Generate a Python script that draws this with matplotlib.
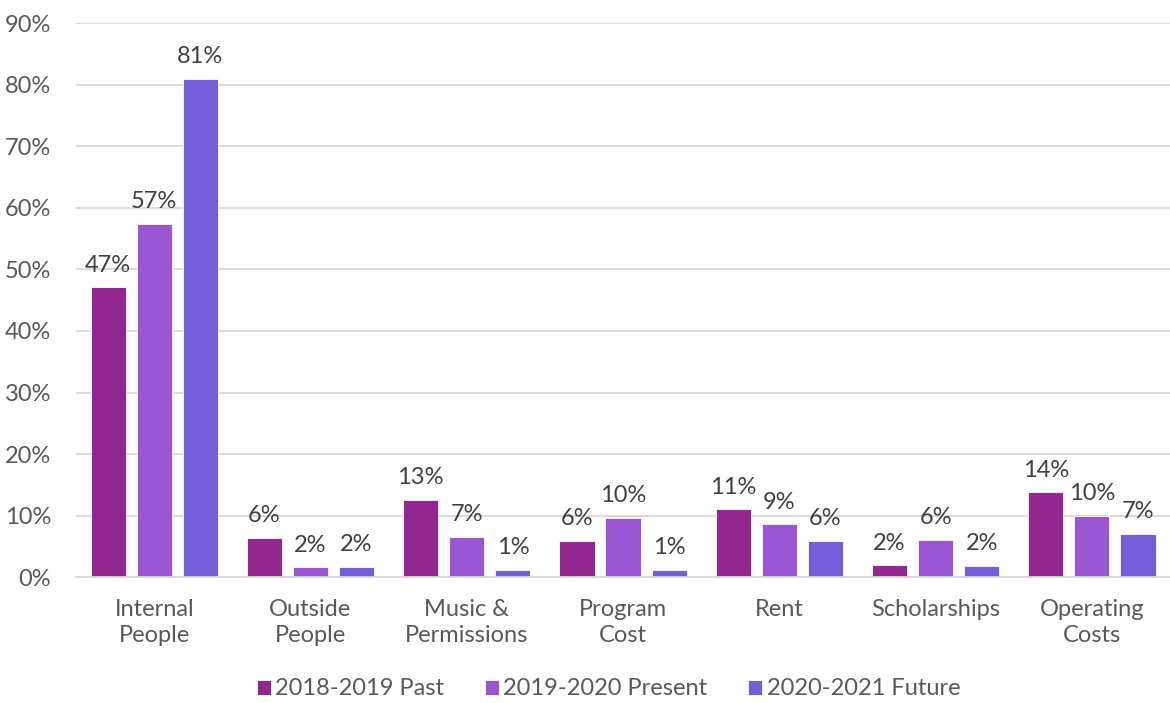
import numpy as np
import matplotlib
matplotlib.use("Agg")
import matplotlib.pyplot as plt

plt.rcParams['font.family'] = ['Lato', 'DejaVu Sans']

categories = ["Internal\nPeople", "Outside\nPeople", "Music &\nPermissions", "Program\nCost",
              "Rent", "Scholarships", "Operating\nCosts"]
series_names = ["2018-2019 Past", "2019-2020 Present", "2020-2021 Future"]
past = [47.1, 6.4, 12.6, 5.9, 11.0, 1.9, 13.8]
present = [57.4, 1.6, 6.6, 9.6, 8.6, 6.1, 10.0]
future = [81.0, 1.7, 1.2, 1.2, 5.9, 1.8, 7.0]
colors = ["#92278F", "#9B57D3", "#755DD9"]

text_color = "#595959"
label_color = "#404040"
grid_color = "#D9D9D9"

fig = plt.figure(figsize=(11.7, 7.03), dpi=100)
ax = fig.add_axes([0.065, 0.179, 0.935, 0.788])

x = np.arange(len(categories))
width = 0.225
step = 0.295
for i, (vals, name, c) in enumerate(zip([past, present, future], series_names, colors)):
    pos = x + (i - 1) * step
    ax.bar(pos, vals, width, color=c, label=name, edgecolor="white", linewidth=0.6, zorder=3)
    for xp, v in zip(pos, vals):
        ax.text(xp, v + 1.9, f"{round(v):.0f}%", ha="center", va="bottom",
                fontsize=17, color=label_color)

ax.set_xlim(-0.5, 6.5)
ax.set_ylim(0, 90)
ax.set_yticks(np.arange(0, 91, 10))
ax.set_yticklabels([f"{t}%" for t in range(0, 91, 10)])
ax.set_xticks(x)
ax.set_xticklabels(categories, linespacing=1.3)
ax.tick_params(axis="both", length=0, labelsize=17, colors=text_color)
ax.tick_params(axis="x", pad=16)
ax.tick_params(axis="y", pad=18)
ax.grid(axis="y", color=grid_color, linewidth=1.3, zorder=0)
for s in ["top", "right", "left"]:
    ax.spines[s].set_visible(False)
ax.spines["bottom"].set_color(grid_color)
ax.spines["bottom"].set_linewidth(1.3)
ax.spines["bottom"].set_zorder(4)

leg = fig.legend(loc="center", bbox_to_anchor=(0.52, 0.02), ncol=3, frameon=False,
                 fontsize=17, handlelength=0.6, handleheight=0.6, handletextpad=0.2,
                 columnspacing=1.7, borderaxespad=0)
for t in leg.get_texts():
    t.set_color(text_color)

fig.savefig("out.png", dpi=100)
